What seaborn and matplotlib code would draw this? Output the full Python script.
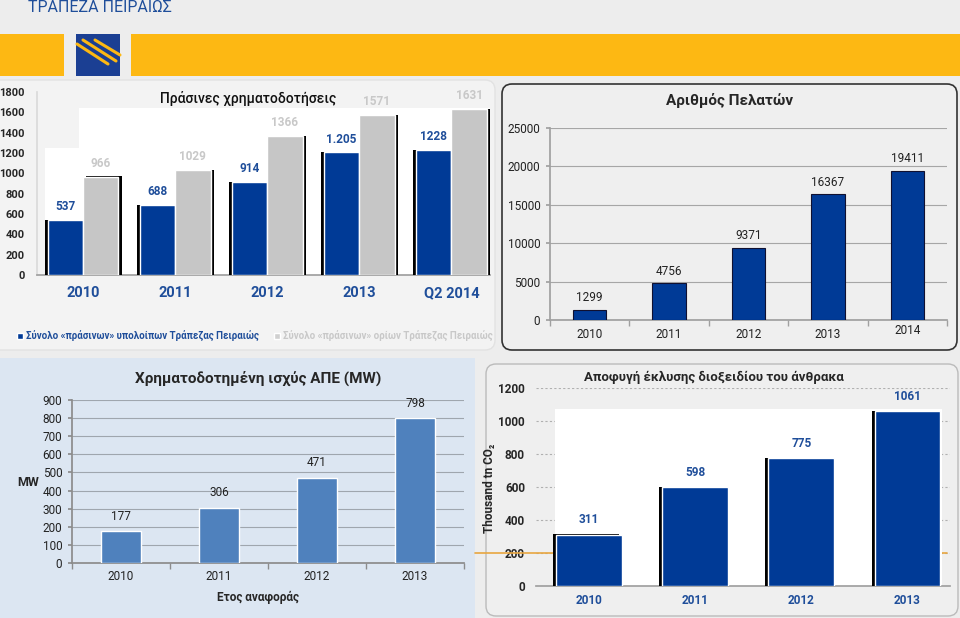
import numpy as np
import pandas as pd
import matplotlib
matplotlib.use("Agg")
import matplotlib.pyplot as plt
import matplotlib.patheffects as pe
from matplotlib.patches import FancyBboxPatch, Rectangle
from matplotlib.lines import Line2D
from matplotlib.transforms import IdentityTransform, ScaledTranslation
import seaborn as sns

# ---- dados ----
green_years = ["2010", "2011", "2012", "2013", "Q2 2014"]
green_balances = [537, 688, 914, 1205, 1228]
green_limits = [966, 1029, 1366, 1571, 1631]
green_balance_labels = ["537", "688", "914", "1.205", "1228"]
series_names = ["Σύνολο «πράσινων» υπολοίπων Τράπεζας Πειραιώς",
                "Σύνολο «πράσινων» ορίων Τράπεζας Πειραιώς"]

client_years = ["2010", "2011", "2012", "2013", "2014"]
clients = [1299, 4756, 9371, 16367, 19411]

mw_years = ["2010", "2011", "2012", "2013"]
mw_values = [177, 306, 471, 798]

co2_years = ["2010", "2011", "2012", "2013"]
co2_values = [311, 598, 775, 1061]

BLUE = "#003A96"
BLUE_TXT = "#1F4E9A"
GRAY = "#C6C6C6"
W, H = 960, 618

sns.set_theme(style="white")
plt.rcParams["font.family"] = ["Roboto", "DejaVu Sans"]

fig = plt.figure(figsize=(9.6, 6.18), dpi=100, facecolor="#EDEDED")


def rect(x0, y0, x1, y1):
    return [x0 / W, 1 - y1 / H, (x1 - x0) / W, (y1 - y0) / H]


def ftext(x, y, s, **kw):
    return fig.text(x / W, 1 - y / H, s, **kw)


def panel(x0, y0, x1, y1, fc, ec="none", lw=0, r=0):
    if r > 0:
        p = FancyBboxPatch((x0, H - y1), x1 - x0, y1 - y0,
                           boxstyle=f"round,pad=0,rounding_size={r}",
                           transform=IdentityTransform(), fc=fc, ec=ec, lw=lw, zorder=-5)
    else:
        p = Rectangle((x0, H - y1), x1 - x0, y1 - y0, transform=IdentityTransform(),
                      fc=fc, ec=ec, lw=lw, zorder=-5)
    fig.add_artist(p)


def shadow(container, dx, dy=0.3):
    for bar in container:
        bar.set_path_effects([pe.SimplePatchShadow(offset=(dx, dy), shadow_rgbFace="black", alpha=1),
                              pe.Normal()])


# ---- cabecalho ----
ftext(28, 0.5, "ΤΡΑΠΕΖΑ ΠΕΙΡΑΙΩΣ", color=BLUE_TXT, fontsize=11.5, va="top")
panel(0, 34, 64, 76, "#FDB813")
panel(131, 34, 960, 76, "#FDB813")
panel(76, 34, 120, 76, "#1B3F93")
for (xa, ya, xb, yb) in [(77, 44, 108, 64), (83, 40, 116, 61), (95, 40, 120, 55)]:
    fig.add_artist(Line2D([xa, xb], [H - ya, H - yb], transform=IdentityTransform(),
                          color="#FDB813", lw=2.2, zorder=-4))

# ---- paineis ----
panel(-10, 80, 495, 350, "#F3F3F3", "#E2E2E2", 1, 10)
panel(502, 84, 957, 350, "#EFEFEF", "#333333", 1.2, 10)
panel(-5, 358, 475, 625, "#DCE6F2")
panel(486, 364, 958, 616, "#EFEFEF", "#BBBBBB", 1, 10)

# ---- grafico 1: Πράσινες χρηματοδοτήσεις ----
df1 = pd.DataFrame({
    "year": green_years * 2,
    "value": green_balances + green_limits,
    "series": [series_names[0]] * 5 + [series_names[1]] * 5,
})
ax1 = fig.add_axes(rect(37, 92, 490, 275))
ax1.set_facecolor("none")
sns.barplot(data=df1, x="year", y="value", hue="series", palette=[BLUE, GRAY],
            width=0.77, saturation=1, legend=False, ax=ax1, zorder=3)
ax1.set_xlim(-0.5, 4.42)
ax1.set_ylim(0, 1800)
ax1.set_yticks(range(0, 1801, 200))
ax1.add_patch(Rectangle((-0.41, 0), 0.37, 1249, fc="white", ec="none", zorder=1))
ax1.add_patch(Rectangle((-0.04, 0), 4.46, 1643, fc="white", ec="none", zorder=1))
shadow(ax1.containers[0], -2.2)
shadow(ax1.containers[1], 2.2)
ax1.bar_label(ax1.containers[0], labels=green_balance_labels, padding=5,
              color=BLUE_TXT, fontsize=8.5, fontweight="bold")
ax1.bar_label(ax1.containers[1], labels=[str(v) for v in green_limits], padding=5,
              color="#C8C8C8", fontsize=8.5, fontweight="bold")
sns.despine(ax=ax1)
ax1.spines["left"].set_color("#DADADA")
ax1.spines["bottom"].set_color("#A0A0A0")
ax1.tick_params(axis="y", length=0, pad=9, labelsize=8)
ax1.tick_params(axis="x", length=0, pad=8, labelsize=10.5, labelcolor=BLUE_TXT)
for t in ax1.get_yticklabels() + ax1.get_xticklabels():
    t.set_fontweight("bold")
ax1.set_xlabel("")
ax1.set_ylabel("")
ftext(248, 99, "Πράσινες χρηματοδοτήσεις", ha="center", va="center", fontsize=10,
      fontweight="medium", color="#111111")
handles = [Rectangle((0, 0), 1, 1, fc=BLUE), Rectangle((0, 0), 1, 1, fc="#D0D0D0")]
leg = fig.legend(handles, series_names, loc="center left", bbox_to_anchor=(8 / W, 1 - 336 / H),
                 ncol=2, frameon=False, prop={"size": 7, "weight": "bold"},
                 handlelength=0.6, handleheight=0.6, handletextpad=0.3, columnspacing=1.6)
for t, c in zip(leg.get_texts(), [BLUE_TXT, "#C8C8C8"]):
    t.set_color(c)

# ---- grafico 2: Αριθμός Πελατών ----
ax2 = fig.add_axes(rect(550, 128, 947, 320))
ax2.set_facecolor("none")
sns.barplot(x=client_years, y=clients, color=BLUE, width=0.42, saturation=1,
            edgecolor="#101030", linewidth=0.8, ax=ax2, zorder=3)
ax2.set_xlim(-0.5, 4.5)
ax2.set_ylim(0, 25000)
ax2.set_yticks(range(0, 25001, 5000))
ax2.yaxis.grid(True, color="#A6A6A6", lw=0.8)
ax2.set_axisbelow(True)
ax2.set_xticks(np.arange(-0.5, 5, 1), minor=True)
ax2.bar_label(ax2.containers[0], padding=4, fontsize=8.5, color="#222222")
sns.despine(ax=ax2)
for s in ["left", "bottom"]:
    ax2.spines[s].set_color("#A0A0A0")
ax2.tick_params(axis="x", which="major", length=0, pad=6, labelsize=8.5, labelcolor="#222222")
ax2.tick_params(axis="x", which="minor", length=4, color="#A0A0A0", direction="out", bottom=True)
ax2.tick_params(axis="y", length=3, color="#A0A0A0", direction="out", left=True, pad=4,
                labelsize=8.5, labelcolor="#222222")
last = ax2.get_xticklabels()[-1]
last.set_transform(last.get_transform() + ScaledTranslation(0, 4 / 100, fig.dpi_scale_trans))
ftext(730, 101, "Αριθμός Πελατών", ha="center", va="center", fontsize=11, fontweight="bold")

# ---- grafico 3: Χρηματοδοτημένη ισχύς ΑΠΕ ----
ax3 = fig.add_axes(rect(72, 400, 464, 563))
ax3.set_facecolor("none")
sns.barplot(x=mw_years, y=mw_values, color="#4F81BD", width=0.4, saturation=1, ax=ax3, zorder=3)
ax3.set_xlim(-0.5, 3.5)
ax3.set_ylim(0, 900)
ax3.set_yticks(range(0, 901, 100))
ax3.yaxis.grid(True, color="#9FA6AE", lw=0.8)
ax3.set_axisbelow(True)
ax3.set_xticks(np.arange(-0.5, 4, 1), minor=True)
ax3.bar_label(ax3.containers[0], padding=6, fontsize=8.5, color="#222222")
sns.despine(ax=ax3)
for s in ["left", "bottom"]:
    ax3.spines[s].set_color("#8C8C8C")
ax3.tick_params(axis="x", which="major", length=0, pad=5, labelsize=8.5, labelcolor="#222222")
ax3.tick_params(axis="x", which="minor", length=4, color="#8C8C8C", direction="out", bottom=True)
ax3.tick_params(axis="y", length=3, color="#8C8C8C", direction="out", left=True, pad=4,
                labelsize=8.5, labelcolor="#222222")
ftext(258, 378, "Χρηματοδοτημένη ισχύς ΑΠΕ (MW)", ha="center", va="center",
      fontsize=11, fontweight="bold")
ftext(258, 597, "Ετος αναφοράς", ha="center", va="center", fontsize=8.5, fontweight="bold")
ftext(28, 482, "MW", ha="center", va="center", fontsize=9, fontweight="bold")

# ---- grafico 4: Αποφυγή έκλυσης CO2 ----
ax4 = fig.add_axes(rect(536, 388, 950, 586))
ax4.set_facecolor("none")
sns.barplot(x=co2_years, y=co2_values, color=BLUE, width=0.62, saturation=1, ax=ax4, zorder=3)
ax4.set_xlim(-0.5, 3.4)
ax4.set_ylim(0, 1200)
ax4.set_yticks(range(0, 1201, 200))
ax4.add_patch(Rectangle((-0.32, 0), 3.64, 1075, fc="white", ec="none", zorder=1))
ax4.plot([-1.07, 3.37], [200, 200], color="#E8A640", lw=1.2, zorder=0.8, clip_on=False)
ax4.yaxis.grid(True, color="#B0B0B0", lw=0.8, linestyle=(0, (2, 2)))
ax4.set_axisbelow(True)
shadow(ax4.containers[0], -2.2, 0.3)
ax4.bar_label(ax4.containers[0], padding=6, fontsize=8.5, color=BLUE_TXT, fontweight="bold")
sns.despine(ax=ax4, left=True)
ax4.spines["bottom"].set_color("#A0A0A0")
ax4.tick_params(axis="y", length=0, pad=8, labelsize=8.5)
ax4.tick_params(axis="x", length=0, pad=6, labelsize=8.5, labelcolor=BLUE_TXT)
for t in ax4.get_yticklabels() + ax4.get_xticklabels():
    t.set_fontweight("bold")
ax4.set_ylabel("Thousand tn CO₂", fontsize=8.5, fontweight="bold")
ax4.yaxis.set_label_coords(-0.097, 0.495)
ftext(714, 377, "Αποφυγή έκλυσης διοξειδίου του άνθρακα", ha="center", va="center",
      fontsize=9.5, fontweight="bold")

fig.savefig("out.png", dpi=100, facecolor=fig.get_facecolor())
